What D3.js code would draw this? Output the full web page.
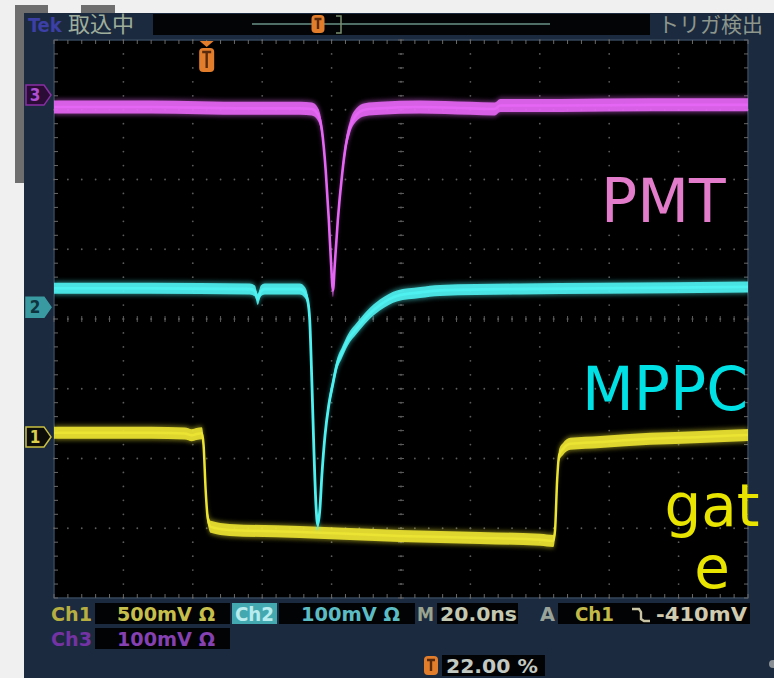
<!DOCTYPE html>
<html lang="ja">
<head>
<meta charset="UTF-8">
<title>PMT / MPPC / gate</title>
<script src="https://cdnjs.cloudflare.com/ajax/libs/d3/7.8.5/d3.min.js"></script>
<style>
  body { margin: 0; background: #f0f0f0; }
  svg { display: block; }
  .big { font-family: "DejaVu Sans", sans-serif; }
  .ro { font-family: "Liberation Sans Narrow", "DejaVu Sans Condensed", "Liberation Sans", sans-serif; font-weight: bold; }
  .jp { font-family: "Noto Sans CJK JP", sans-serif; }
</style>
</head>
<body>
<svg id="scope" width="774" height="678"></svg>
<script>
// --- Data: time in ns from trigger, voltage in mV from channel ground ---
const pmtT  = [-44, -16, 12, 27, 30.3, 32, 33.2, 34.3, 35.2, 35.8, 36.4, 36.9, 37.8, 39, 40.1, 41.3, 43, 45.6, 50, 61.5, 76, 83, 84.6, 102, 128, 156];
const pmtV  = [-17, -17, -19, -19, -20, -27, -50, -108, -179, -237, -280, -244, -179, -115, -72, -46, -29, -21, -19, -17, -19, -20, -15, -15, -14, -14];

const mppcT = [-44, -16, 12.4, 13.9, 14.7, 15.6, 16.7, 26.8, 28.3, 29.1, 29.7, 30.3, 30.9, 31.5, 32.0, 32.6, 33.2, 34.1, 35.2, 36.4, 37.5, 39.0, 40.7, 43.3, 46.2, 49.9, 54.8, 61.5, 67.2, 90.3, 113.4, 156];
const mppcV = [27, 27, 26, 23, 11, 23, 26, 26, 21, 10, -19, -105, -205, -284, -312, -291, -241, -184, -140, -109, -83, -65, -47, -30, -13, 3, 16, 21, 24, 26, 27, 29];

const gateT = [-44, -16, -6.3, -4.3, -2.9, -1.4, -0.9, -0.3, 0.3, 1.2, 6.6, 26.8, 55.7, 78.8, 96.1, 99.9, 100.4, 101, 101.6, 102.7, 104.8, 113.4, 127.8, 142.3, 156];
const gateV = [29, 29, 24, 12, 20, 26, -57, -380, -581, -645, -667, -681, -710, -724, -738, -746, -667, -308, -129, -86, -50, -36, -14, 0, 14];

// scope settings
const nsPerDiv = 20;
const trigPct = 22;
const chScale = [500, 100, 100];        // mV/div for Ch1..Ch3
const chGround = [-1.69, 0.17, 3.21];   // ground marker, divisions from centre
const readout1 = ["Ch1", "500mV \u03A9", "Ch2", "100mV \u03A9", "M", "20.0ns", "A", "Ch1", "-410mV"];
const readout2 = ["Ch3", "100mV \u03A9"];
const trigText = "22.00 %";
const labels = ["PMT", "MPPC", "gat", "e"];

// --- Setup ---
const svg = d3.select("#scope");
const plot = {left: 54, right: 748, top: 40, bottom: 598};

const span = nsPerDiv * 10;
const x = d3.scaleLinear()
    .domain([-span * trigPct / 100, span * (1 - trigPct / 100)])
    .range([plot.left, plot.right]);
const xDiv = d3.scaleLinear().domain([0, 10]).range([plot.left, plot.right]);
const yDiv = d3.scaleLinear().domain([-4, 4]).range([plot.bottom, plot.top]);

const defs = svg.append("defs");
defs.append("clipPath").attr("id", "plotclip")
  .append("rect")
    .attr("x", plot.left).attr("y", plot.top)
    .attr("width", plot.right - plot.left).attr("height", plot.bottom - plot.top);
defs.append("filter").attr("id", "glow").attr("x", "-10%").attr("y", "-10%").attr("width", "120%").attr("height", "120%")
  .append("feGaussianBlur").attr("stdDeviation", 2);
defs.append("filter").attr("id", "soft")
  .append("feGaussianBlur").attr("stdDeviation", 0.6);

// --- Background bits behind the scope screen ---
svg.append("rect").attr("x", 15).attr("y", 5).attr("width", 10).attr("height", 178).attr("fill", "#6e6e6e");
svg.append("rect").attr("x", 15).attr("y", 5).attr("width", 33).attr("height", 8).attr("fill", "#6e6e6e");
svg.append("rect").attr("x", 81).attr("y", 5).attr("width", 34).attr("height", 8).attr("fill", "#6e6e6e");

// scope panel
svg.append("rect").attr("x", 24).attr("y", 13).attr("width", 750).attr("height", 665).attr("fill", "#1b2a3e");

// --- Top status bar ---
svg.append("text").attr("class", "ro").attr("x", 28).attr("y", 32)
    .attr("font-size", 20).attr("fill", "#3b3fa6").text("Tek");
svg.append("text").attr("class", "jp").attr("x", 68).attr("y", 32)
    .attr("font-size", 22).attr("fill", "#9fae9c").text("取込中");
svg.append("rect").attr("x", 153).attr("y", 14).attr("width", 497).attr("height", 21).attr("fill", "#030405");
svg.append("line").attr("x1", 252).attr("x2", 550).attr("y1", 24).attr("y2", 24)
    .attr("stroke", "#4f6e66").attr("stroke-width", 2);
svg.append("path").attr("d", "M336,16 H341 V33 H336").attr("fill", "none")
    .attr("stroke", "#7c8e70").attr("stroke-width", 1.5);
svg.append("text").attr("class", "jp").attr("x", 658).attr("y", 32)
    .attr("font-size", 21).attr("fill", "#8c968c").text("トリガ検出");

// trigger position marker (orange T)
function tMarker(cx, top, w, h) {
  const g = svg.append("g");
  g.append("rect").attr("x", cx - w / 2).attr("y", top).attr("width", w).attr("height", h)
      .attr("rx", 4).attr("fill", "#e27d2c");
  g.append("path")
      .attr("d", `M${cx - w / 2 + 3},${top + 4} H${cx + w / 2 - 3} M${cx},${top + 4} V${top + h - 4}`)
      .attr("stroke", "#5a2a0c").attr("stroke-width", 2.4).attr("fill", "none");
  return g;
}
tMarker(318, 15, 13, 18);

// --- Plot area & graticule ---
svg.append("rect")
    .attr("x", plot.left).attr("y", plot.top)
    .attr("width", plot.right - plot.left).attr("height", plot.bottom - plot.top)
    .attr("fill", "#000").attr("stroke", "#34465a").attr("stroke-width", 1.5);

const grid = svg.append("g").attr("fill", "#5c5c5c").attr("stroke", "#5c5c5c");
const minorY = d3.range(0, 41).map(j => -4 + j * 0.2);
const minorX = d3.range(0, 51).map(j => j * 0.2);

// dotted division lines
d3.range(1, 10).filter(i => i !== 5).forEach(i => {
  grid.selectAll(null).data(minorY).join("circle")
      .attr("cx", xDiv(i)).attr("cy", d => yDiv(d)).attr("r", 0.9).attr("stroke", "none");
});
d3.range(-3, 4).filter(k => k !== 0).forEach(k => {
  grid.selectAll(null).data(minorX).join("circle")
      .attr("cx", d => xDiv(d)).attr("cy", yDiv(k)).attr("r", 0.9).attr("stroke", "none");
});
// centre lines with minor ticks
grid.selectAll(null).data(minorY).join("line")
    .attr("x1", xDiv(5) - 3).attr("x2", xDiv(5) + 3)
    .attr("y1", d => yDiv(d)).attr("y2", d => yDiv(d)).attr("stroke-width", 1);
grid.selectAll(null).data(minorY).join("circle")
    .attr("cx", xDiv(5)).attr("cy", d => yDiv(d)).attr("r", 1).attr("stroke", "none");
grid.selectAll(null).data(minorX).join("line")
    .attr("x1", d => xDiv(d)).attr("x2", d => xDiv(d))
    .attr("y1", yDiv(0) - 3).attr("y2", yDiv(0) + 3).attr("stroke-width", 1);
grid.selectAll(null).data(minorX).join("circle")
    .attr("cx", d => xDiv(d)).attr("cy", yDiv(0)).attr("r", 1).attr("stroke", "none");
// edge ticks
const edge = svg.append("g").attr("stroke", "#6a6a6a").attr("stroke-width", 1);
edge.selectAll(null).data(minorX).join("line")
    .attr("x1", d => xDiv(d)).attr("x2", d => xDiv(d)).attr("y1", plot.top).attr("y2", plot.top + 4);
edge.selectAll(null).data(minorX).join("line")
    .attr("x1", d => xDiv(d)).attr("x2", d => xDiv(d)).attr("y1", plot.bottom - 4).attr("y2", plot.bottom);
edge.selectAll(null).data(minorY).join("line")
    .attr("x1", plot.left).attr("x2", plot.left + 4).attr("y1", d => yDiv(d)).attr("y2", d => yDiv(d));
edge.selectAll(null).data(minorY).join("line")
    .attr("x1", plot.right - 4).attr("x2", plot.right).attr("y1", d => yDiv(d)).attr("y2", d => yDiv(d));

// trigger marker on top of graticule
svg.append("path").attr("d", `M${x(0) - 7},41 H${x(0) + 7} L${x(0)},47 Z`).attr("fill", "#e27d2c");
tMarker(x(0), 48, 15, 24);

// --- Traces ---
const channels = [
  {t: gateT, v: gateV, color: "#ece432", half: 6,   core: 2.5},
  {t: mppcT, v: mppcV, color: "#4ff0f0", half: 5.5, core: 2.8},
  {t: pmtT,  v: pmtV,  color: "#e566f4", half: 6.5, core: 2.6}
];

const traces = svg.append("g").attr("clip-path", "url(#plotclip)");
channels.forEach((ch, i) => {
  const data = d3.zip(ch.t, ch.v);
  const yv = d => yDiv(chGround[i] + d[1] / chScale[i]);
  const band = h => d3.area()
      .x(d => x(d[0]))
      .y0(d => yv(d) - h)
      .y1(d => yv(d) + h)
      .curve(d3.curveMonotoneX);
  const line = d3.line().x(d => x(d[0])).y(yv).curve(d3.curveMonotoneX);

  const g = traces.append("g");
  g.append("path").attr("d", band(ch.half + 1.5)(data))
      .attr("fill", ch.color).attr("opacity", 0.45).attr("filter", "url(#glow)");
  g.append("path").attr("d", band(ch.half)(data))
      .attr("fill", ch.color).attr("opacity", 0.9).attr("filter", "url(#soft)");
  g.append("path").attr("d", line(data))
      .attr("fill", "none").attr("stroke", ch.color).attr("stroke-width", ch.core)
      .attr("stroke-linejoin", "round");
});

// --- Channel ground markers on the left ---
const markerStyle = [
  {fill: "#0c0c08", stroke: "#c9c042", text: "#d8cf4c"},
  {fill: "#3a9aa2", stroke: "#3a9aa2", text: "#0f3440"},
  {fill: "#2a0c36", stroke: "#8a2ea4", text: "#b04fd0"}
];
chGround.forEach((gnd, i) => {
  const yc = yDiv(gnd);
  const s = markerStyle[i];
  svg.append("path")
      .attr("d", `M26,${yc - 10} H44 L51,${yc} L44,${yc + 10} H26 Z`)
      .attr("fill", s.fill).attr("stroke", s.stroke).attr("stroke-width", 1.5);
  svg.append("text").attr("class", "ro").attr("x", 35).attr("y", yc + 6)
      .attr("text-anchor", "middle").attr("font-size", 17).attr("fill", s.text).text(i + 1);
});

// --- Readout ---
function box(x0, y0, w, h, fill) {
  svg.append("rect").attr("x", x0).attr("y", y0).attr("width", w).attr("height", h).attr("fill", fill);
}
function txt(str, x0, y0, w, color) {
  svg.append("text").attr("class", "ro").attr("x", x0).attr("y", y0)
      .attr("font-size", 19).attr("fill", color)
      .attr("textLength", w).attr("lengthAdjust", "spacingAndGlyphs").text(str);
}
// row 1
box(95, 603, 135, 21, "#020304");
box(232, 603, 45, 21, "#44a8b0");
box(279, 603, 136, 21, "#020304");
box(437, 603, 81, 21, "#020304");
box(558, 603, 192, 21, "#020304");
txt(readout1[0], 51, 621, 41, "#b6ae40");
txt(readout1[1], 117, 621, 98, "#c7bf4c");
txt(readout1[2], 235, 621, 39, "#b9ecee");
txt(readout1[3], 301, 621, 99, "#5cbcc4");
txt(readout1[4], 417, 621, 17, "#9aa38e");
txt(readout1[5], 440, 621, 77, "#c3c8b2");
txt(readout1[6], 540, 621, 15, "#9aa39a");
txt(readout1[7], 575, 621, 39, "#c2ba48");
svg.append("path").attr("d", "M632,609 H639 L641,612 V619 L644,621 H650")
    .attr("fill", "none").attr("stroke", "#c8c4a4").attr("stroke-width", 2.4);
txt(readout1[8], 656, 621, 91, "#cfcab0");
// row 2
box(95, 628, 135, 21, "#020304");
txt(readout2[0], 51, 646, 41, "#7433a3");
txt(readout2[1], 117, 646, 98, "#8540b2");
// row 3
box(442, 655, 103, 21, "#020304");
tMarker(431, 656, 14, 19);
txt(trigText, 446, 673, 92, "#c2c9c2");
svg.append("circle").attr("cx", 773).attr("cy", 664).attr("r", 4).attr("fill", "#8a8f96");

// --- Overlay labels ---
svg.append("text").attr("class", "big").attr("x", 601).attr("y", 222)
    .attr("font-size", 60).attr("fill", "#e27ccb").text(labels[0]);
svg.append("text").attr("class", "big").attr("x", 582).attr("y", 410)
    .attr("font-size", 60).attr("fill", "#00e1e6").text(labels[1]);
svg.append("text").attr("class", "big").attr("x", 712).attr("y", 526)
    .attr("text-anchor", "middle").attr("font-size", 58).attr("fill", "#e8e400").text(labels[2]);
svg.append("text").attr("class", "big").attr("x", 712).attr("y", 588)
    .attr("text-anchor", "middle").attr("font-size", 58).attr("fill", "#e8e400").text(labels[3]);
</script>
</body>
</html>
